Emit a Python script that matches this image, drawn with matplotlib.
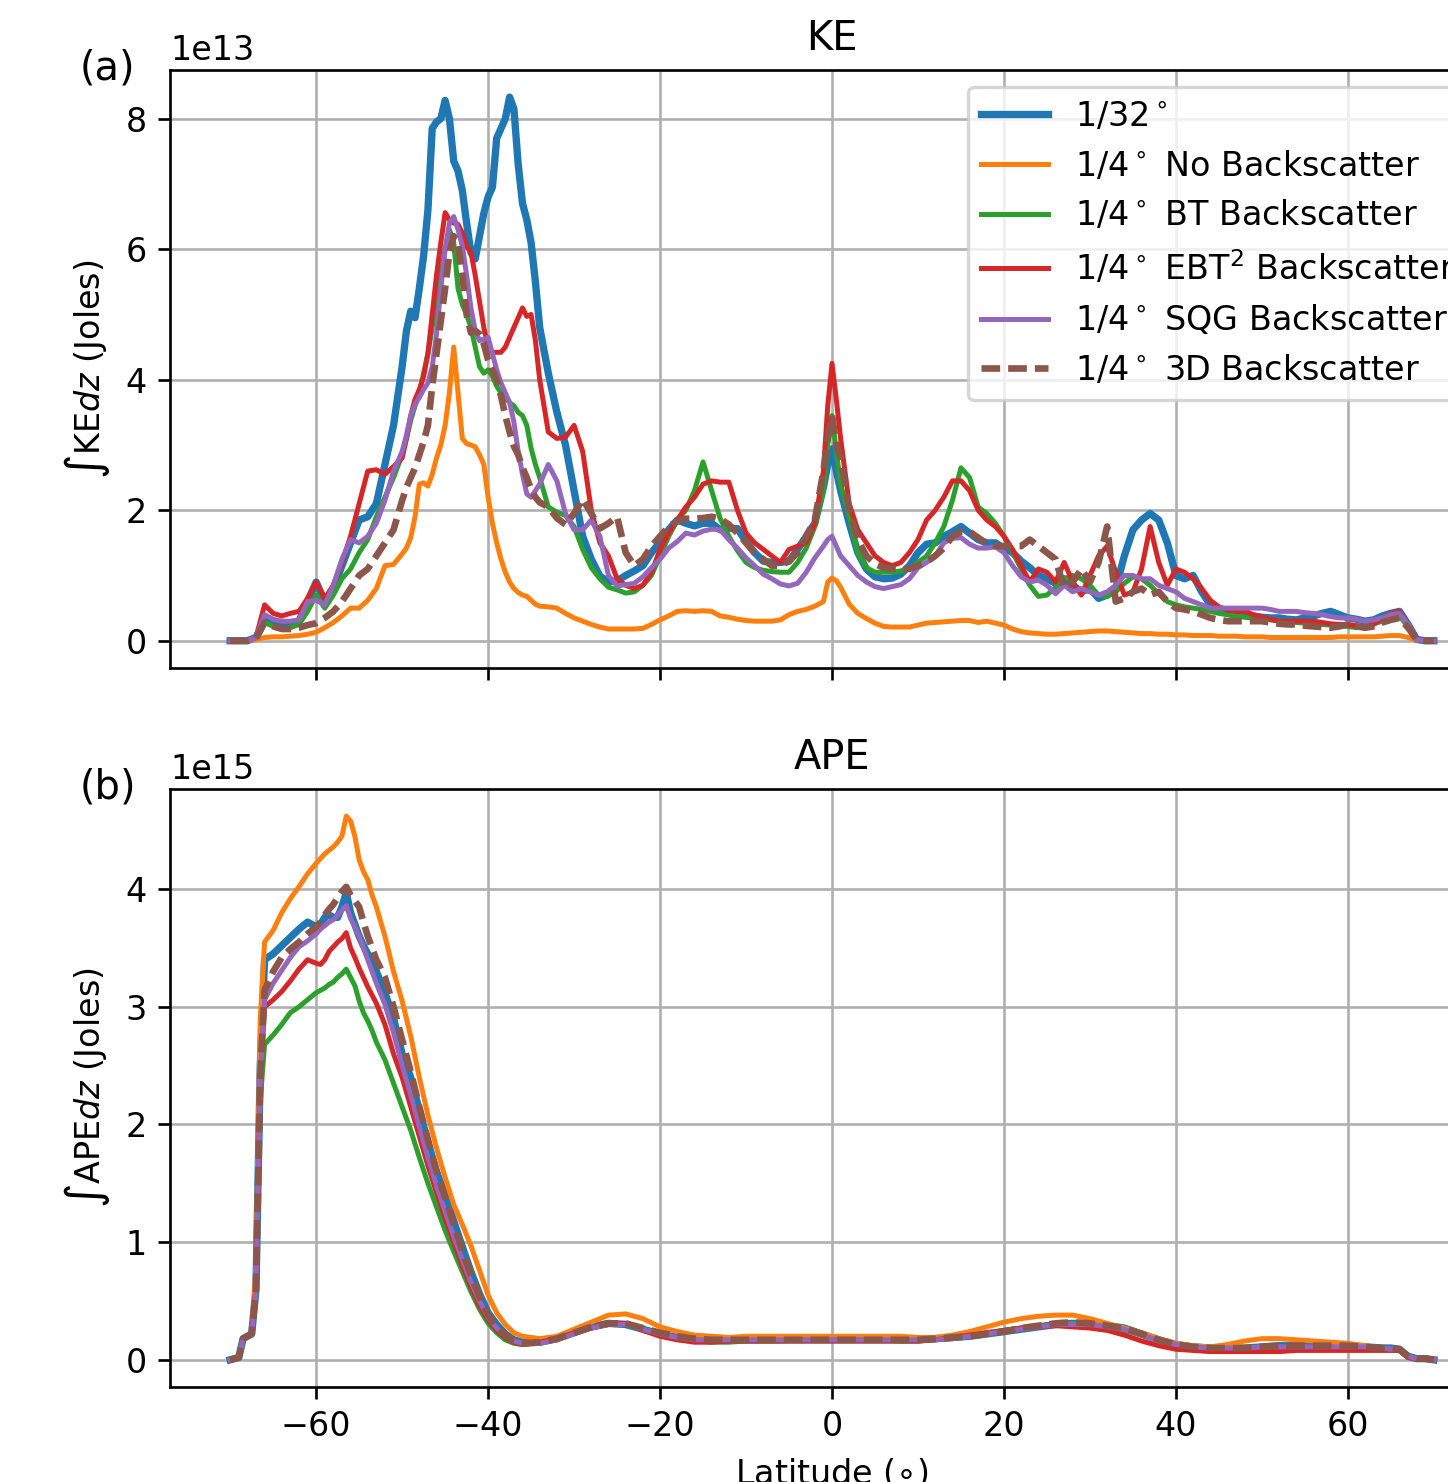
import numpy as np
import matplotlib
matplotlib.use("Agg")
import matplotlib.pyplot as plt

# latitude sampling of the KE curves (finer around the ACC peaks)
ke_lat = np.concatenate([np.arange(-70, -49, 1.0), np.arange(-49.5, -33.5, 0.5),
                         np.arange(-33, 0, 1.0), [-0.5, 0.0, 0.5], np.arange(1, 71, 1.0)])

# KE, units of 1e13 J
ke_32 = [0, 0, 0, 0.05, 0.3, 0.3, 0.25, 0.25, 0.3, 0.6, 0.9, 0.6, 0.8, 1.15, 1.5, 1.85, 1.9, 2.1, 2.7, 3.3, 4.2,
         4.75, 5.05, 4.95, 5.4, 5.9, 6.6, 7.85, 7.95, 8.0, 8.28, 8.0, 7.35, 7.2, 6.9, 6.4, 5.95,
         5.85, 6.2, 6.55, 6.8, 6.95, 7.7, 7.85, 8.0, 8.33, 8.15, 7.3, 6.7, 6.45, 6.1, 5.5, 4.8,
         4.1, 3.5, 3.0, 2.3, 1.6, 1.25, 0.99, 0.9, 0.92, 1.0,
         1.07, 1.15, 1.35, 1.51, 1.7, 1.85, 1.8, 1.76, 1.8, 1.8,
         1.7, 1.72, 1.72, 1.52, 1.35, 1.22, 1.2, 1.2, 1.22, 1.4, 1.6, 1.8, 2.35,
         2.7, 2.94, 2.6,
         2.3, 1.8, 1.35, 1.1, 0.98, 0.95, 0.96, 1.02, 1.15, 1.35,
         1.48, 1.5, 1.6, 1.67, 1.75, 1.65, 1.55, 1.5, 1.5, 1.42,
         1.35, 1.22, 1.12, 1.0, 0.95, 0.88, 0.95, 0.85, 0.75, 0.8,
         0.65, 0.7, 0.8, 1.3, 1.7, 1.85, 1.95, 1.85, 1.5, 1.0,
         0.95, 1.0, 0.75, 0.55, 0.45, 0.42, 0.4, 0.4, 0.38, 0.36,
         0.35, 0.35, 0.33, 0.32, 0.35, 0.38, 0.42, 0.45, 0.4, 0.35,
         0.33, 0.3, 0.32, 0.38, 0.42, 0.45, 0.25, 0.02, 0, 0]
ke_no = [0, 0, 0, 0.02, 0.05, 0.06, 0.06, 0.07, 0.08, 0.1, 0.13, 0.2, 0.28, 0.38, 0.5, 0.5, 0.62, 0.8, 1.15, 1.17, 1.33,
         1.42, 1.58, 1.9, 2.4, 2.42, 2.37, 2.55, 2.8, 3.0, 3.3, 3.8, 4.5, 3.8, 3.1, 3.02, 3.0,
         2.97, 2.85, 2.7, 2.2, 1.8, 1.5, 1.25, 1.05, 0.9, 0.8, 0.74, 0.7, 0.68, 0.62, 0.56, 0.53,
         0.52, 0.5, 0.42, 0.35, 0.3, 0.25, 0.21, 0.18, 0.18, 0.18,
         0.18, 0.19, 0.25, 0.32, 0.38, 0.45, 0.46, 0.45, 0.46, 0.45,
         0.38, 0.36, 0.33, 0.31, 0.3, 0.3, 0.3, 0.32, 0.4, 0.45, 0.48, 0.53, 0.6,
         0.9, 0.96, 0.92,
         0.82, 0.56, 0.42, 0.34, 0.27, 0.22, 0.21, 0.21, 0.21, 0.24,
         0.27, 0.28, 0.29, 0.3, 0.31, 0.31, 0.28, 0.3, 0.27, 0.24,
         0.18, 0.14, 0.12, 0.11, 0.1, 0.1, 0.11, 0.12, 0.13, 0.14,
         0.15, 0.15, 0.14, 0.13, 0.12, 0.11, 0.11, 0.1, 0.1, 0.09,
         0.09, 0.08, 0.08, 0.08, 0.07, 0.07, 0.07, 0.06, 0.06, 0.06,
         0.05, 0.05, 0.05, 0.05, 0.05, 0.05, 0.05, 0.05, 0.06, 0.06,
         0.06, 0.06, 0.06, 0.07, 0.08, 0.08, 0.05, 0.01, 0, 0]
ke_bt = [0, 0, 0, 0.05, 0.28, 0.22, 0.18, 0.2, 0.25, 0.45, 0.7, 0.5, 0.7, 0.95, 1.1, 1.35, 1.55, 1.9, 2.2, 2.5, 2.85,
         3.1, 3.38, 3.6, 3.8, 4.1, 4.4, 4.8, 5.2, 5.6, 6.0, 6.3, 6.1, 5.4, 5.15, 5.0, 4.8,
         4.5, 4.2, 4.1, 4.15, 4.05, 3.9, 3.8, 3.72, 3.65, 3.6, 3.5, 3.45, 3.3, 2.95, 2.7, 2.5,
         2.05, 1.97, 1.92, 1.75, 1.4, 1.12, 0.95, 0.82, 0.78, 0.73,
         0.75, 0.85, 1.0, 1.3, 1.6, 1.85, 2.0, 2.3, 2.74, 2.3,
         1.87, 1.6, 1.38, 1.2, 1.12, 1.08, 1.06, 1.05, 1.05, 1.2, 1.42, 1.75, 2.3,
         3.0, 3.45, 2.9,
         2.4, 1.9, 1.35, 1.12, 1.05, 1.05, 1.05, 1.07, 1.1, 1.2,
         1.3, 1.5, 1.75, 2.15, 2.65, 2.5, 2.05, 1.95, 1.8, 1.6,
         1.36, 1.1, 0.85, 0.68, 0.7, 0.82, 0.95, 1.0, 0.95, 0.85,
         0.7, 0.68, 0.75, 0.88, 0.98, 0.95, 0.85, 0.72, 0.6, 0.55,
         0.52, 0.5, 0.48, 0.45, 0.42, 0.4, 0.38, 0.36, 0.35, 0.34,
         0.32, 0.3, 0.3, 0.28, 0.27, 0.26, 0.25, 0.24, 0.23, 0.22,
         0.2, 0.22, 0.26, 0.3, 0.35, 0.38, 0.22, 0.02, 0, 0]
ke_ebt = [0, 0, 0, 0.05, 0.55, 0.42, 0.38, 0.42, 0.45, 0.65, 0.9, 0.65, 0.85, 1.2, 1.6, 2.1, 2.6, 2.62, 2.55, 2.67, 2.8,
          3.1, 3.45, 3.7, 3.85, 4.05, 4.4, 5.0, 5.6, 6.1, 6.56, 6.45, 6.4, 6.38, 6.25, 6.05, 5.95,
          5.6, 5.2, 4.8, 4.5, 4.42, 4.42, 4.42, 4.5, 4.65, 4.8, 4.95, 5.1, 4.97, 5.0, 4.6, 4.0,
          3.2, 3.1, 3.12, 3.3, 2.9, 2.0, 1.5, 1.3, 0.95, 0.85,
          0.8, 0.85, 1.05, 1.4, 1.65, 1.85, 2.05, 2.2, 2.4, 2.45,
          2.43, 2.43, 2.0, 1.65, 1.5, 1.4, 1.3, 1.2, 1.4, 1.45, 1.5, 1.8, 2.6,
          3.6, 4.25, 3.7,
          3.1, 2.1, 1.7, 1.5, 1.3, 1.2, 1.15, 1.2, 1.35, 1.55,
          1.85, 2.0, 2.2, 2.45, 2.45, 2.3, 2.0, 1.85, 1.75, 1.6,
          1.4, 1.15, 0.9, 1.1, 1.05, 0.9, 1.2, 0.9, 0.7, 1.0,
          1.3, 1.45, 1.05, 0.7, 0.75, 1.1, 1.75, 1.2, 0.85, 1.1,
          1.05, 0.95, 0.8, 0.62, 0.52, 0.47, 0.45, 0.45, 0.4, 0.36,
          0.33, 0.3, 0.3, 0.3, 0.3, 0.3, 0.28, 0.26, 0.25, 0.25,
          0.23, 0.2, 0.25, 0.35, 0.42, 0.45, 0.25, 0.02, 0, 0]
ke_sqg = [0, 0, 0, 0.05, 0.4, 0.33, 0.3, 0.3, 0.32, 0.6, 0.62, 0.55, 0.85, 1.25, 1.55, 1.5, 1.6, 1.8, 2.15, 2.6, 2.9,
          3.15, 3.45, 3.62, 3.73, 3.85, 3.95, 4.2, 4.7, 5.4, 6.0, 6.4, 6.5, 6.3, 6.05, 5.6, 5.1,
          4.75, 4.6, 4.62, 4.65, 4.4, 4.15, 3.95, 3.8, 3.65, 3.35, 2.9, 2.55, 2.25, 2.2, 2.3, 2.4,
          2.7, 2.45, 1.95, 1.7, 1.7, 1.85, 1.6, 1.0, 0.84, 0.86,
          0.88, 0.98, 1.12, 1.25, 1.42, 1.52, 1.65, 1.62, 1.68, 1.71,
          1.7, 1.55, 1.42, 1.27, 1.15, 1.02, 0.95, 0.87, 0.84, 0.88, 1.05, 1.27, 1.45,
          1.55, 1.6, 1.45,
          1.3, 1.15, 1.0, 0.9, 0.83, 0.8, 0.83, 0.86, 0.95, 1.12,
          1.2, 1.3, 1.5, 1.57, 1.58, 1.48, 1.42, 1.42, 1.44, 1.35,
          1.15, 0.98, 0.9, 0.93, 0.85, 0.72, 0.85, 0.75, 0.8, 0.75,
          0.7, 0.75, 0.85, 1.0, 1.0, 0.95, 0.95, 0.85, 0.8, 0.75,
          0.65, 0.6, 0.55, 0.5, 0.5, 0.5, 0.5, 0.5, 0.5, 0.5,
          0.48, 0.45, 0.45, 0.45, 0.43, 0.42, 0.4, 0.37, 0.35, 0.35,
          0.33, 0.3, 0.32, 0.35, 0.4, 0.42, 0.25, 0.02, 0, 0]
ke_3d = [0, 0, 0, 0.03, 0.28, 0.22, 0.18, 0.18, 0.2, 0.24, 0.27, 0.35, 0.45, 0.6, 0.8, 1.0, 1.1, 1.3, 1.5, 1.7, 2.15,
         2.35, 2.5, 2.65, 2.85, 3.05, 3.3, 3.9, 4.4, 4.9, 5.4, 5.95, 6.2, 6.1, 5.6, 5.0, 4.72,
         4.75, 4.7, 4.55, 4.3, 4.15, 4.0, 3.75, 3.45, 3.2, 2.98, 2.85, 2.65, 2.5, 2.32, 2.2, 2.12,
         2.05, 1.88, 1.78, 1.95, 2.17, 1.95, 1.72, 1.8, 1.9, 1.35,
         1.15, 1.25, 1.45, 1.6, 1.75, 1.83, 1.87, 1.87, 1.88, 1.9,
         1.87, 1.78, 1.65, 1.5, 1.35, 1.25, 1.15, 1.15, 1.22, 1.35, 1.6, 1.85, 2.6,
         3.1, 3.45, 3.0,
         2.8, 2.0, 1.55, 1.3, 1.18, 1.12, 1.1, 1.1, 1.1, 1.15,
         1.21, 1.3, 1.42, 1.6, 1.67, 1.67, 1.58, 1.48, 1.45, 1.45,
         1.45, 1.45, 1.55, 1.45, 1.35, 1.25, 0.8, 0.9, 1.1, 0.9,
         1.2, 1.75, 0.6, 0.65, 0.75, 0.8, 0.7, 0.75, 0.6, 0.5,
         0.48, 0.45, 0.4, 0.35, 0.32, 0.3, 0.3, 0.3, 0.3, 0.3,
         0.28, 0.26, 0.25, 0.25, 0.23, 0.22, 0.21, 0.2, 0.22, 0.25,
         0.22, 0.2, 0.22, 0.28, 0.32, 0.35, 0.2, 0.02, 0, 0]

# latitude sampling of the APE curves
ape_lat = np.concatenate([[-70, -69, -68.5, -68, -67.5, -67, -66.5], np.arange(-66, -60, 1.0),
                          np.arange(-60, -52.5, 0.5), np.arange(-52, -35, 1.0),
                          np.arange(-34, 65, 2.0), np.arange(65, 71, 1.0)])

# APE, units of 1e15 J
ape_32 = [0, 0.02, 0.18, 0.2, 0.22, 0.6, 2.5,
          3.4, 3.45, 3.52, 3.59, 3.66, 3.72,
          3.68, 3.7, 3.76, 3.78, 3.76, 3.76, 3.85, 3.97, 3.8, 3.7, 3.6, 3.52, 3.45, 3.38, 3.3,
          3.12, 2.9, 2.6, 2.4, 2.12, 1.85, 1.6, 1.4, 1.18, 0.96, 0.75, 0.56, 0.4, 0.3, 0.22, 0.17, 0.15,
          0.15, 0.18, 0.24, 0.28, 0.31, 0.3, 0.26, 0.22, 0.19, 0.17,
          0.17, 0.17, 0.17, 0.17, 0.17, 0.17, 0.17, 0.17, 0.17, 0.17,
          0.17, 0.17, 0.17, 0.18, 0.19, 0.2, 0.22, 0.24, 0.26, 0.28,
          0.3, 0.31, 0.3, 0.29, 0.27, 0.22, 0.17, 0.13, 0.11, 0.1,
          0.1, 0.1, 0.11, 0.12, 0.12, 0.12, 0.12, 0.12, 0.11, 0.1,
          0.1, 0.09, 0.03, 0.01, 0.01, 0]
ape_no = [0, 0.02, 0.18, 0.2, 0.22, 0.8, 2.9,
          3.55, 3.65, 3.8, 3.92, 4.02, 4.13,
          4.22, 4.26, 4.3, 4.33, 4.36, 4.4, 4.45, 4.62, 4.58, 4.45, 4.25, 4.15, 4.08, 3.95, 3.85,
          3.6, 3.3, 3.05, 2.75, 2.4, 2.08, 1.8, 1.55, 1.32, 1.15, 0.97, 0.76, 0.55, 0.4, 0.3, 0.23, 0.2,
          0.18, 0.2, 0.26, 0.32, 0.38, 0.39, 0.35, 0.28, 0.24, 0.21,
          0.2, 0.19, 0.2, 0.2, 0.2, 0.2, 0.2, 0.2, 0.2, 0.2,
          0.2, 0.2, 0.19, 0.19, 0.21, 0.24, 0.28, 0.32, 0.35, 0.37,
          0.38, 0.38, 0.35, 0.31, 0.27, 0.23, 0.18, 0.14, 0.12, 0.11,
          0.13, 0.16, 0.18, 0.18, 0.17, 0.16, 0.15, 0.14, 0.12, 0.1,
          0.09, 0.09, 0.03, 0.01, 0.01, 0]
ape_bt = [0, 0.02, 0.18, 0.2, 0.22, 0.55, 2.2,
          2.68, 2.76, 2.85, 2.95, 3.0, 3.06,
          3.12, 3.14, 3.16, 3.19, 3.21, 3.25, 3.28, 3.32, 3.25, 3.18, 3.05, 2.95, 2.88, 2.8, 2.7,
          2.55, 2.35, 2.15, 1.95, 1.72, 1.5, 1.3, 1.1, 0.92, 0.75, 0.58, 0.43, 0.31, 0.23, 0.17, 0.14, 0.13,
          0.14, 0.17, 0.22, 0.27, 0.3, 0.3, 0.26, 0.22, 0.18, 0.16,
          0.15, 0.15, 0.16, 0.16, 0.16, 0.17, 0.17, 0.17, 0.17, 0.17,
          0.17, 0.16, 0.16, 0.17, 0.18, 0.2, 0.22, 0.25, 0.27, 0.29,
          0.3, 0.31, 0.3, 0.28, 0.25, 0.21, 0.16, 0.13, 0.1, 0.09,
          0.09, 0.1, 0.1, 0.1, 0.1, 0.1, 0.1, 0.1, 0.09, 0.09,
          0.09, 0.08, 0.03, 0.01, 0.01, 0]
ape_ebt = [0, 0.02, 0.18, 0.2, 0.22, 0.6, 2.4,
           3.0, 3.06, 3.13, 3.22, 3.32, 3.4,
           3.37, 3.36, 3.4, 3.47, 3.51, 3.55, 3.58, 3.63, 3.5, 3.42, 3.33, 3.25, 3.17, 3.1, 3.03,
           2.85, 2.6, 2.4, 2.15, 1.9, 1.65, 1.42, 1.2, 1.0, 0.8, 0.62, 0.46, 0.34, 0.25, 0.19, 0.15, 0.13,
           0.15, 0.18, 0.23, 0.27, 0.31, 0.31, 0.25, 0.2, 0.17, 0.15,
           0.15, 0.16, 0.16, 0.16, 0.16, 0.16, 0.16, 0.16, 0.16, 0.16,
           0.16, 0.16, 0.16, 0.17, 0.19, 0.21, 0.23, 0.25, 0.27, 0.28,
           0.29, 0.28, 0.27, 0.25, 0.21, 0.16, 0.12, 0.09, 0.08, 0.07,
           0.07, 0.07, 0.07, 0.07, 0.08, 0.08, 0.08, 0.08, 0.08, 0.08,
           0.08, 0.08, 0.02, 0.01, 0.01, 0]
ape_sqg = [0, 0.02, 0.18, 0.2, 0.22, 0.6, 2.4,
           3.06, 3.2, 3.31, 3.42, 3.51, 3.56,
           3.62, 3.66, 3.69, 3.72, 3.74, 3.78, 3.82, 3.86, 3.75, 3.68, 3.6, 3.5, 3.4, 3.3, 3.2,
           3.02, 2.78, 2.5, 2.25, 1.98, 1.72, 1.48, 1.26, 1.05, 0.85, 0.66, 0.5, 0.36, 0.27, 0.2, 0.16, 0.14,
           0.14, 0.17, 0.22, 0.27, 0.3, 0.3, 0.26, 0.22, 0.19, 0.17,
           0.17, 0.17, 0.17, 0.17, 0.17, 0.17, 0.17, 0.17, 0.17, 0.17,
           0.17, 0.17, 0.17, 0.17, 0.18, 0.2, 0.22, 0.24, 0.26, 0.28,
           0.3, 0.3, 0.3, 0.28, 0.26, 0.21, 0.16, 0.13, 0.11, 0.1,
           0.1, 0.1, 0.11, 0.11, 0.11, 0.11, 0.11, 0.11, 0.11, 0.1,
           0.09, 0.09, 0.03, 0.01, 0.01, 0]
ape_3d = [0, 0.02, 0.18, 0.2, 0.22, 0.6, 2.4,
          3.14, 3.3, 3.42, 3.49, 3.55, 3.62,
          3.68, 3.72, 3.78, 3.83, 3.87, 3.93, 3.98, 4.02, 3.95, 3.9, 3.85, 3.72, 3.6, 3.5, 3.4,
          3.25, 3.0, 2.72, 2.45, 2.15, 1.87, 1.6, 1.38, 1.15, 0.93, 0.72, 0.54, 0.38, 0.28, 0.21, 0.16, 0.14,
          0.15, 0.18, 0.23, 0.28, 0.31, 0.31, 0.27, 0.23, 0.2, 0.18,
          0.17, 0.17, 0.17, 0.17, 0.17, 0.17, 0.17, 0.17, 0.17, 0.17,
          0.17, 0.17, 0.17, 0.18, 0.19, 0.2, 0.22, 0.24, 0.27, 0.29,
          0.31, 0.32, 0.31, 0.29, 0.27, 0.22, 0.17, 0.13, 0.11, 0.1,
          0.1, 0.1, 0.11, 0.12, 0.12, 0.12, 0.12, 0.12, 0.11, 0.1,
          0.1, 0.09, 0.03, 0.01, 0.01, 0]

labels = [r'1/32$^\circ$', r'1/4$^\circ$ No Backscatter', r'1/4$^\circ$ BT Backscatter',
          r'1/4$^\circ$ EBT$^2$ Backscatter', r'1/4$^\circ$ SQG Backscatter', r'1/4$^\circ$ 3D Backscatter']
colors = ['C0', 'C1', 'C2', 'C3', 'C4', 'C5']
widths = [2.2, 1.5, 1.5, 1.5, 1.5, 2.0]
styles = ['-', '-', '-', '-', '-', (0, (2.8, 1.2))]

ke_all = [ke_32, ke_no, ke_bt, ke_ebt, ke_sqg, ke_3d]
ape_all = [ape_32, ape_no, ape_bt, ape_ebt, ape_sqg, ape_3d]

fig = plt.figure(figsize=(1448 / 240, 1482 / 240), dpi=240)
ax1 = fig.add_axes([0.1174, 0.5493, 0.9144, 0.4035])
ax2 = fig.add_axes([0.1174, 0.0641, 0.9144, 0.4035], sharex=ax1)

for vals, lab, c, lw, ls in zip(ke_all, labels, colors, widths, styles):
    ax1.plot(ke_lat, np.array(vals) * 1e13, color=c, lw=lw, ls=ls, label=lab)
for vals, lab, c, lw, ls in zip(ape_all, labels, colors, widths, styles):
    ax2.plot(ape_lat, np.array(vals) * 1e15, color=c, lw=lw, ls=ls, label=lab)

ax1.set_title('KE')
ax2.set_title('APE')
ax1.set_ylabel(r'$\int$KE$dz$ (Joles)')
ax2.set_ylabel(r'$\int$APE$dz$ (Joles)')
ax2.set_xlabel(r'Latitude ($\circ$)')
ax1.tick_params(labelbottom=False)
ax1.grid(True)
ax2.grid(True)
ax1.legend(loc='upper right', bbox_to_anchor=(0.993, 1.0))

ax1.text(-0.068, 1.002, '(a)', transform=ax1.transAxes, fontsize=12, ha='left', va='center')
ax2.text(-0.068, 1.002, '(b)', transform=ax2.transAxes, fontsize=12, ha='left', va='center')

fig.savefig('out.png', dpi=240)
